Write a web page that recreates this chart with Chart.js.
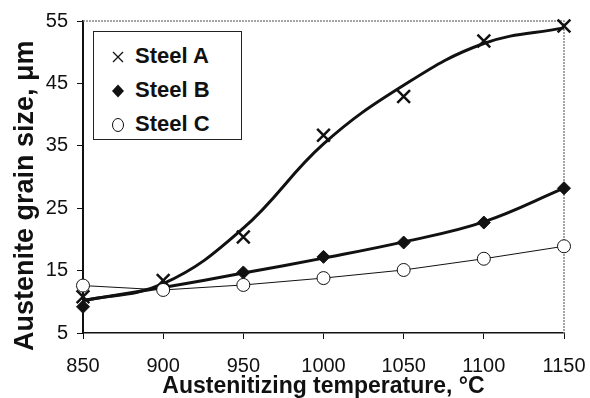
<!DOCTYPE html>
<html>
<head>
<meta charset="utf-8">
<script src="https://cdn.jsdelivr.net/npm/chart.js@4.4.1/dist/chart.umd.min.js"></script>
<style>
body { margin: 0; background: #fff; }
#wrap { position: relative; width: 590px; height: 398px; }
#legend {
    position: absolute; left: 93px; top: 31px; width: 149px; height: 109px;
    border: 1px solid #222; background: #fff; box-sizing: border-box;
    font: bold 22px "Liberation Sans", Arial, sans-serif; color: #111;
}
.row { position: absolute; left: 0; height: 26px; line-height: 26px; white-space: nowrap; }
.row svg { position: absolute; left: 16px; top: 6px; }
.row span { position: absolute; left: 41px; top: 0; }
</style>
</head>
<body>
<div id="wrap">
    <canvas id="chart" width="590" height="398"></canvas>
    <div id="legend"></div>
</div>
<script>
// values
const temps = [850, 900, 950, 1000, 1050, 1100, 1150];
const steelA = [10.8, 13.4, 20.4, 36.7, 42.9, 51.8, 54.2];
const steelB = [9.2, 12.0, 14.7, 17.2, 19.5, 22.7, 28.2];
const steelC = [12.6, 11.9, 12.7, 13.8, 15.1, 16.9, 18.9];
// smooth trend lines drawn through the A and B points
const trendA = [10.2, 12.9, 21.8, 35.3, 44.7, 51.4, 53.9];
const trendB = [10.2, 12.3, 14.6, 17.0, 19.6, 22.8, 28.2];
const yTicks = [5, 15, 25, 35, 45, 55];
const seriesNames = ['Steel A', 'Steel B', 'Steel C'];

const FONT = '"Liberation Sans", Arial, sans-serif';

function points(values) {
    let pts = [];
    for (let i = 0; i < temps.length; i++) {
        pts.push({ x: temps[i], y: values[i] });
    }
    return pts;
}

const framePlugin = {
    id: 'frame',
    beforeDatasetsDraw(chart) {
        const ctx = chart.ctx;
        const a = chart.chartArea;
        ctx.save();
        ctx.strokeStyle = '#888';
        ctx.lineWidth = 1.5;
        ctx.setLineDash([2, 1]);
        ctx.beginPath();
        ctx.moveTo(a.left, a.top);
        ctx.lineTo(a.right, a.top);
        ctx.lineTo(a.right, a.bottom);
        ctx.stroke();
        ctx.restore();
    }
};

new Chart(document.getElementById('chart'), {
    type: 'line',
    data: {
        datasets: [
            {
                label: seriesNames[2],
                data: points(steelC),
                borderColor: '#111',
                borderWidth: 1,
                tension: 0,
                pointStyle: 'circle',
                pointRadius: 6.5,
                pointBackgroundColor: '#fff',
                pointBorderColor: '#111',
                pointBorderWidth: 1,
                clip: false,
                order: 0
            },
            {
                label: seriesNames[1],
                data: points(steelB),
                showLine: false,
                pointStyle: 'rectRot',
                pointRadius: 6.5,
                pointBackgroundColor: '#111',
                pointBorderColor: '#111',
                pointBorderWidth: 1,
                clip: false,
                order: 1
            },
            {
                label: seriesNames[0],
                data: points(steelA),
                showLine: false,
                pointStyle: 'crossRot',
                pointRadius: 9,
                pointBorderColor: '#111',
                pointBorderWidth: 2.5,
                clip: false,
                order: 2
            },
            {
                label: 'trend A',
                data: points(trendA),
                borderColor: '#111',
                borderWidth: 3,
                tension: 0.4,
                pointRadius: 0,
                clip: false,
                order: 3
            },
            {
                label: 'trend B',
                data: points(trendB),
                borderColor: '#111',
                borderWidth: 3,
                tension: 0.4,
                pointRadius: 0,
                clip: false,
                order: 3
            }
        ]
    },
    options: {
        responsive: false,
        animation: false,
        layout: { padding: { left: 0, top: 21, right: 26, bottom: 0 } },
        plugins: {
            legend: { display: false },
            tooltip: { enabled: false }
        },
        scales: {
            x: {
                type: 'linear',
                min: temps[0],
                max: temps[temps.length - 1],
                afterBuildTicks: (scale) => { scale.ticks = temps.map(v => ({ value: v })); },
                ticks: {
                    font: { family: FONT, size: 20 },
                    color: '#111',
                    padding: 15,
                    maxRotation: 0,
                    autoSkip: false,
                    callback: (v) => String(v)
                },
                grid: { drawOnChartArea: false, tickLength: 6, color: '#111' },
                border: { color: '#111', width: 1.5 },
                title: {
                    display: true,
                    text: 'Austenitizing temperature, °C',
                    font: { family: FONT, size: 23, weight: 'bold', lineHeight: 1 },
                    color: '#111',
                    padding: { top: 0, bottom: 0 }
                },
                afterFit: (scale) => {
                    scale.height = 65;
                    scale.paddingLeft = 0;
                    scale.paddingRight = 0;
                }
            },
            y: {
                min: yTicks[0],
                max: yTicks[yTicks.length - 1],
                afterBuildTicks: (scale) => { scale.ticks = yTicks.map(v => ({ value: v })); },
                ticks: {
                    font: { family: FONT, size: 20 },
                    color: '#111',
                    padding: 9
                },
                grid: { drawOnChartArea: false, tickLength: 6, color: '#111' },
                border: { color: '#111', width: 2 },
                title: {
                    display: true,
                    // trailing spaces push the label down a little, as in the picture
                    text: 'Austenite grain size, μm' + '\u00a0'.repeat(5),
                    font: { family: FONT, size: 27, weight: 'bold', lineHeight: 1 },
                    color: '#111',
                    padding: { top: 12, bottom: 0 }
                },
                afterFit: (scale) => { scale.width = 83; }
            }
        }
    },
    plugins: [framePlugin]
});

// legend box drawn over the plot, as in the picture
const markers = [
    '<svg width="16" height="16"><path d="M3 3L13 13M13 3L3 13" stroke="#111" stroke-width="1.3"/></svg>',
    '<svg width="16" height="16"><path d="M8 1.5L14 8L8 14.5L2 8Z" fill="#111"/></svg>',
    '<svg width="16" height="16"><ellipse cx="8" cy="8" rx="5.5" ry="6.5" fill="#fff" stroke="#111" stroke-width="1"/></svg>'
];
const rowTops = [11, 45, 79];
let legendHtml = '';
for (let i = 0; i < seriesNames.length; i++) {
    legendHtml += `<div class="row" style="top:${rowTops[i]}px">${markers[i]}<span>${seriesNames[i]}</span></div>`;
}
document.getElementById('legend').innerHTML = legendHtml;
</script>
</body>
</html>
